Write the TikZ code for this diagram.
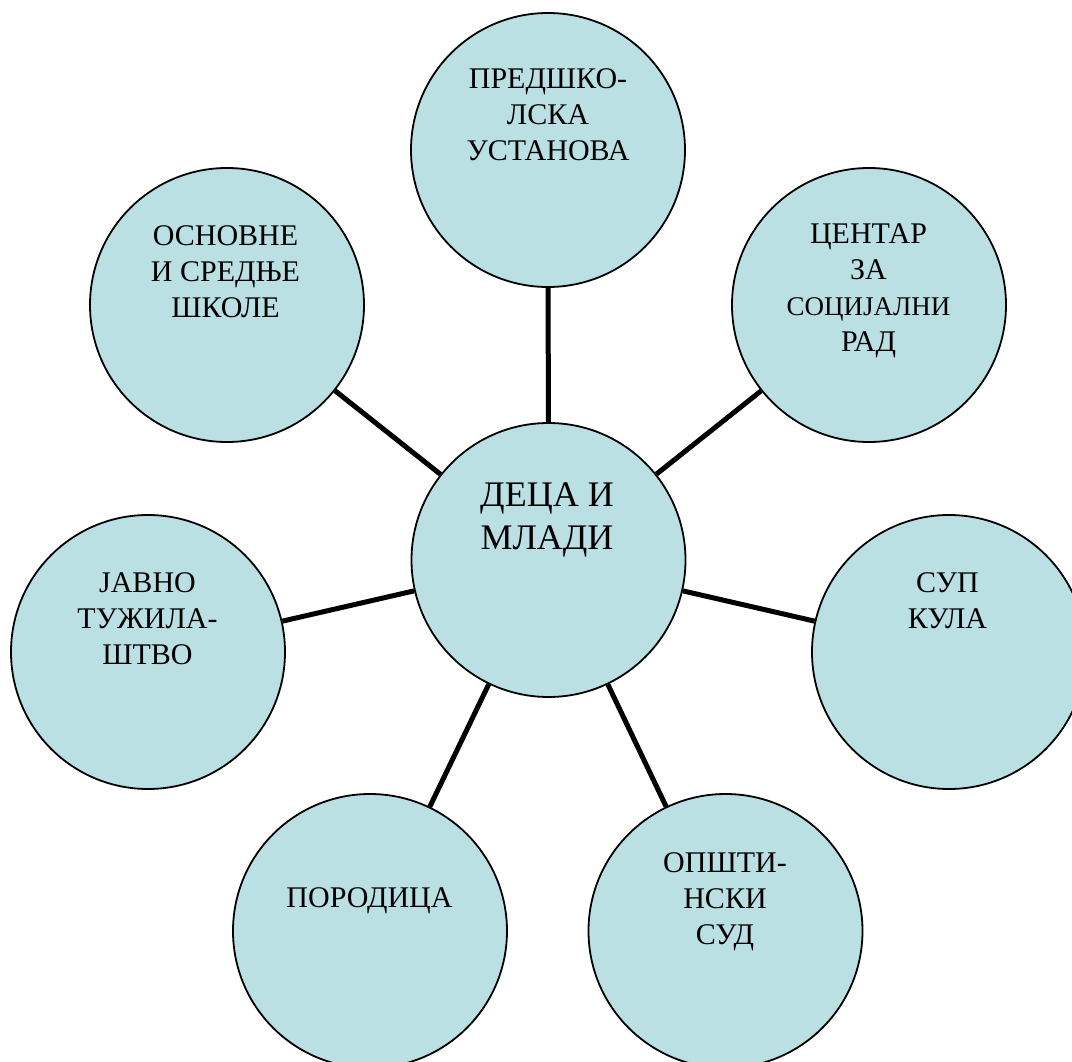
\documentclass[tikz,border=0pt]{standalone}
\usepackage{fontspec}
\setmainfont{Liberation Serif}
\definecolor{bubble}{RGB}{186,224,228}
\tikzset{
  bub/.style={circle, draw=black, line width=1.8pt, fill=bubble, minimum size=274pt, inner sep=0pt},
  spoke/.style={line width=5pt, draw=black},
  lbl/.style={anchor=north, inner sep=0pt, align=center, font=\fontsize{30}{36}\selectfont},
  biglbl/.style={anchor=north, inner sep=0pt, align=center, font=\fontsize{36}{43}\selectfont}
}
\begin{document}
\begin{tikzpicture}[x=1pt,y=-1pt]
\useasboundingbox (0,0) rectangle (1072,1062);
\clip (0,0) rectangle (1072,1062);
\fill[white] (0,0) rectangle (1072,1062);
% circles
\node[bub] (ctr) at (548.5,560) {};
\node[bub] (top) at (548,150) {};
\node[bub] (tr) at (869,305) {};
\node[bub] (tl) at (227,305) {};
\node[bub] (l) at (148,652) {};
\node[bub] (r) at (949,652) {};
\node[bub] (bl) at (370,931) {};
\node[bub] (br) at (725.5,931) {};
% spokes
\draw[spoke] (ctr) -- (top);
\draw[spoke] (ctr) -- (tr);
\draw[spoke] (ctr) -- (tl);
\draw[spoke] (ctr) -- (l);
\draw[spoke] (ctr) -- (r);
\draw[spoke] (ctr) -- (bl);
\draw[spoke] (ctr) -- (br);
% labels
\node[biglbl] (t-ctr) at (547,483) {ДЕЦА И\\МЛАДИ};
\node[lbl] (t-top) at (548,68) {ПРЕДШКО-\\ЛСКА\\УСТАНОВА};
\node[lbl] (t-tr) at (868.5,223) {ЦЕНТАР\\ЗА\\{\fontsize{27}{36}\selectfont СОЦИЈАЛНИ}\\РАД};
\node[lbl] (t-tl) at (225.5,225) {ОСНОВНЕ\\И СРЕДЊЕ\\ШКОЛЕ};
\node[lbl] (t-l) at (147.5,572) {ЈАВНО\\ТУЖИЛА-\\ШТВО};
\node[lbl] (t-r) at (947.5,572) {СУП\\КУЛА};
\node[lbl] (t-bl) at (369.5,887) {ПОРОДИЦА};
\node[lbl] (t-br) at (725,852) {ОПШТИ-\\НСКИ\\СУД};
\end{tikzpicture}
\end{document}
